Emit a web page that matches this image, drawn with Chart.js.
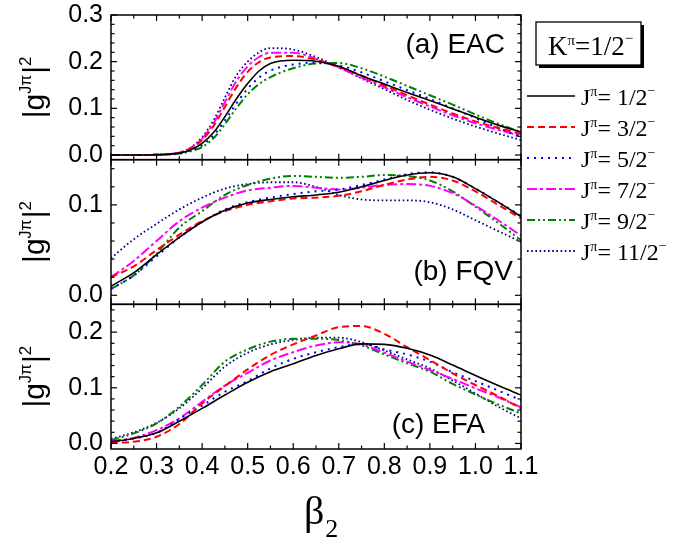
<!DOCTYPE html>
<html>
<head>
<meta charset="utf-8">
<script src="https://cdn.jsdelivr.net/npm/chart.js@4.4.0/dist/chart.umd.min.js"></script>
<style>
  html, body { margin: 0; padding: 0; background: #fff; }
  #wrap { position: relative; width: 681px; height: 544px; }
</style>
</head>
<body>
<div id="wrap"><canvas id="c" width="681" height="544"></canvas></div>
<script>
// deformation grid (beta_2)
const betaA  = [0.2,0.25,0.3,0.35,0.375,0.4,0.425,0.45,0.475,0.5,0.525,0.55,0.6,0.65,0.7,0.75,0.8,0.85,0.9,0.95,1.0,1.05,1.1];
const betaBC = [0.2,0.25,0.3,0.35,0.4,0.45,0.5,0.55,0.6,0.65,0.7,0.75,0.8,0.85,0.9,0.95,1.0,1.05,1.1];

// (a) EAC
const eacJ1  = [0,0,0.0005,0.004,0.011,0.025,0.048,0.082,0.12,0.153,0.18,0.196,0.203,0.201,0.19,0.17,0.152,0.134,0.117,0.099,0.081,0.064,0.049];
const eacJ3  = [0,0,0.0005,0.005,0.014,0.032,0.062,0.103,0.145,0.178,0.199,0.209,0.212,0.204,0.189,0.17,0.149,0.128,0.108,0.089,0.072,0.058,0.045];
const eacJ5  = [0,0,0.0005,0.004,0.01,0.021,0.042,0.074,0.11,0.142,0.166,0.181,0.194,0.198,0.192,0.177,0.158,0.139,0.12,0.1,0.079,0.058,0.038];
const eacJ7  = [0,0,0.0005,0.005,0.015,0.035,0.068,0.113,0.158,0.19,0.21,0.219,0.219,0.206,0.187,0.166,0.145,0.124,0.104,0.085,0.068,0.054,0.041];
const eacJ9  = [0,0,0.0005,0.003,0.008,0.017,0.036,0.066,0.1,0.13,0.152,0.167,0.186,0.196,0.197,0.186,0.168,0.148,0.128,0.108,0.087,0.067,0.049];
const eacJ11 = [0,0,0.0005,0.005,0.016,0.038,0.074,0.123,0.17,0.2,0.22,0.229,0.226,0.21,0.188,0.164,0.141,0.118,0.097,0.078,0.061,0.046,0.032];

// (b) FQV
const fqvJ1  = [0.010,0.025,0.045,0.064,0.081,0.094,0.102,0.106,0.109,0.111,0.114,0.12,0.127,0.133,0.1355,0.131,0.118,0.103,0.087];
const fqvJ3  = [0.020,0.032,0.05,0.067,0.082,0.093,0.1,0.104,0.107,0.108,0.11,0.115,0.122,0.128,0.131,0.127,0.115,0.1,0.085];
const fqvJ5  = [0.007,0.022,0.043,0.064,0.081,0.095,0.103,0.108,0.112,0.115,0.117,0.122,0.128,0.134,0.136,0.131,0.118,0.103,0.088];
const fqvJ7  = [0.020,0.038,0.06,0.082,0.097,0.108,0.116,0.119,0.121,0.119,0.117,0.119,0.122,0.123,0.121,0.113,0.099,0.083,0.066];
const fqvJ9  = [0.007,0.022,0.046,0.075,0.093,0.111,0.122,0.129,0.132,0.131,0.13,0.131,0.133,0.132,0.127,0.115,0.098,0.08,0.061];
const fqvJ11 = [0.041,0.062,0.079,0.095,0.108,0.118,0.123,0.125,0.125,0.12,0.111,0.106,0.105,0.105,0.103,0.095,0.083,0.071,0.059];

// (c) EFA
const efaJ1  = [0.003,0.009,0.019,0.04,0.063,0.087,0.11,0.129,0.143,0.158,0.17,0.179,0.178,0.171,0.159,0.141,0.122,0.104,0.087];
const efaJ3  = [0.001,0.003,0.012,0.035,0.072,0.103,0.133,0.159,0.178,0.194,0.209,0.211,0.197,0.173,0.15,0.126,0.105,0.085,0.063];
const efaJ5  = [0.003,0.009,0.019,0.044,0.068,0.093,0.112,0.135,0.152,0.164,0.173,0.179,0.169,0.16,0.147,0.128,0.112,0.095,0.078];
const efaJ7  = [0.004,0.01,0.024,0.045,0.075,0.104,0.127,0.149,0.164,0.176,0.182,0.178,0.163,0.147,0.132,0.116,0.099,0.083,0.065];
const efaJ9  = [0.006,0.018,0.036,0.066,0.105,0.147,0.169,0.183,0.188,0.188,0.186,0.176,0.16,0.144,0.129,0.107,0.088,0.07,0.054];
const efaJ11 = [0.008,0.02,0.037,0.063,0.099,0.138,0.163,0.178,0.186,0.19,0.19,0.182,0.167,0.151,0.135,0.113,0.09,0.066,0.045];

// spins and tick labels
const spinLabels = ['1/2','3/2','5/2','7/2','9/2','11/2'];
const xTickValues = [0.2,0.3,0.4,0.5,0.6,0.7,0.8,0.9,1.0,1.1];
const yTicksA = [0.0,0.1,0.2,0.3];
const yTicksB = [0.0,0.1];
const yTicksC = [0.0,0.1,0.2];

// line styles per spin
const styles = [
  { color: '#000000', dash: [],                 width: 1.6 },
  { color: '#ff0000', dash: [7,4],              width: 2 },
  { color: '#0000ff', dash: [2,5],              width: 2 },
  { color: '#ff00ff', dash: [10,3,3,3],         width: 2 },
  { color: '#008000', dash: [8,3,2,3,2,3],      width: 2 },
  { color: '#000080', dash: [1.6,2.6],          width: 1.8 }
];

const panels = [
  { axis: 'yA', beta: betaA,  series: [eacJ1,eacJ3,eacJ5,eacJ7,eacJ9,eacJ11], min: -0.01, max: 0.3,  ticks: yTicksA, minorTop: 0.3,  label: '(a) EAC', lx: 505, ly: 53 },
  { axis: 'yB', beta: betaBC, series: [fqvJ1,fqvJ3,fqvJ5,fqvJ7,fqvJ9,fqvJ11], min: -0.01, max: 0.15, ticks: yTicksB, minorTop: 0.14, label: '(b) FQV', lx: 513, ly: 280 },
  { axis: 'yC', beta: betaBC, series: [efaJ1,efaJ3,efaJ5,efaJ7,efaJ9,efaJ11], min: -0.01, max: 0.25, ticks: yTicksC, minorTop: 0.24, label: '(c) EFA', lx: 485, ly: 433 }
];

const datasets = [];
panels.forEach(p => {
  p.series.forEach((vals, i) => {
    datasets.push({
      label: 'J=' + spinLabels[i],
      data: p.beta.map((b, k) => ({ x: b, y: vals[k] })),
      yAxisID: p.axis,
      xAxisID: 'x',
      borderColor: styles[i].color,
      borderDash: styles[i].dash,
      borderWidth: styles[i].width,
      pointRadius: 0,
      fill: false,
      cubicInterpolationMode: 'monotone',
      order: i
    });
  });
});

const SANS = '"Liberation Sans", Arial, sans-serif';
const SERIF = '"Liberation Serif", "Times New Roman", serif';

// draws a run of text pieces with individual sizes and vertical shifts
function richText(ctx, x, y, parts) {
  let cx = x;
  parts.forEach(p => {
    ctx.font = p.size + 'px ' + p.family;
    ctx.fillText(p.t, cx, y - (p.up || 0));
    cx += ctx.measureText(p.t).width + (p.gap || 0);
  });
  return cx;
}
function richWidth(ctx, parts) {
  let w = 0;
  parts.forEach(p => { ctx.font = p.size + 'px ' + p.family; w += ctx.measureText(p.t).width + (p.gap || 0); });
  return w;
}

const decorations = {
  id: 'decorations',
  afterDatasetsDraw(chart) {
    const { ctx, chartArea, scales } = chart;
    const xs = scales.x;
    const L = chartArea.left, R = chartArea.right;
    ctx.save();
    ctx.strokeStyle = '#000';
    ctx.fillStyle = '#000';
    const seg = (x1, y1, x2, y2) => { ctx.beginPath(); ctx.moveTo(x1, y1); ctx.lineTo(x2, y2); ctx.stroke(); };

    panels.forEach(p => {
      const ys = scales[p.axis];
      const T = ys.top, B = ys.bottom;
      // inward tick marks on all four sides
      ctx.lineWidth = 1.2;
      for (let i = 0; i <= 18; i++) {
        const v = 0.2 + i * 0.05;
        const px = xs.getPixelForValue(v);
        const len = i % 2 === 0 ? 6 : 3.5;
        seg(px, B, px, B - len);
        seg(px, T, px, T + len);
      }
      const nMinor = Math.round(p.minorTop / 0.02);
      for (let k = 0; k <= nMinor; k++) {
        const v = k * 0.02;
        const py = ys.getPixelForValue(v);
        const major = (k % 5 === 0);
        const len = major ? 6 : 3.5;
        seg(L, py, L + len, py);
        seg(R, py, R - len, py);
      }
      // frame
      ctx.lineWidth = 1.5;
      ctx.strokeRect(L, T, R - L, B - T);

      // panel caption
      ctx.font = '28px ' + SANS;
      ctx.textAlign = 'right';
      ctx.textBaseline = 'alphabetic';
      ctx.fillText(p.label, p.lx, p.ly);
      ctx.textAlign = 'left';

      // rotated axis title |g^{J pi}|^2
      const parts = [
        { t: '|g', size: 30, family: SANS },
        { t: 'J', size: 16, family: SANS, up: 13 },
        { t: 'π', size: 16, family: SANS, up: 13, gap: 1 },
        { t: '|', size: 30, family: SANS },
        { t: '2', size: 17, family: SANS, up: 13 }
      ];
      const w = richWidth(ctx, parts);
      const cy = (T + B) / 2;
      ctx.save();
      ctx.translate(44, cy);
      ctx.rotate(-Math.PI / 2);
      richText(ctx, -w / 2, 0, parts);
      ctx.restore();
    });

    // x axis title beta_2
    ctx.textBaseline = 'alphabetic';
    ctx.font = '40px ' + SERIF;
    ctx.fillText('β', 304, 524);
    const bw = ctx.measureText('β').width;
    ctx.font = '26px ' + SERIF;
    ctx.fillText('2', 304 + bw + 1, 537);

    // K box with shadow
    const bx = 536, by = 22, bwid = 105, bh = 43;
    ctx.fillStyle = '#000';
    ctx.fillRect(bx + 3, by + 3, bwid, bh);
    ctx.fillStyle = '#fff';
    ctx.fillRect(bx, by, bwid, bh);
    ctx.lineWidth = 1.3;
    ctx.strokeRect(bx, by, bwid, bh);
    ctx.fillStyle = '#000';
    richText(ctx, 548, 55, [
      { t: 'K', size: 27, family: SERIF },
      { t: 'π', size: 15, family: SERIF, up: 10 },
      { t: '=1/2', size: 27, family: SERIF },
      { t: '−', size: 15, family: SERIF, up: 12 }
    ]);

    // series key
    spinLabels.forEach((s, i) => {
      const ly = 96 + i * 31;
      const st = styles[i];
      ctx.save();
      ctx.strokeStyle = st.color;
      ctx.lineWidth = st.width;
      ctx.setLineDash(st.dash);
      seg(527, ly, 575, ly);
      ctx.restore();
      ctx.fillStyle = '#000';
      richText(ctx, 581, ly + 9, [
        { t: 'J', size: 24, family: SERIF },
        { t: 'π', size: 14, family: SERIF, up: 9 },
        { t: '= ' + s, size: 24, family: SERIF },
        { t: '−', size: 14, family: SERIF, up: 10 }
      ]);
    });
    ctx.restore();
  }
};

Chart.defaults.color = '#000';
Chart.defaults.font.family = SANS;

function yScale(p, weight) {
  return {
    type: 'linear',
    position: 'left',
    stack: 'panels',
    stackWeight: 1,
    weight: weight,
    min: p.min,
    max: p.max,
    grid: { display: false, drawTicks: false },
    border: { display: false },
    ticks: { font: { size: 25 }, padding: 8, autoSkip: false, callback: v => v.toFixed(1) },
    afterBuildTicks: s => { s.ticks = p.ticks.map(v => ({ value: v })); },
    afterFit: s => { s.width = 60; s.paddingTop = 0; s.paddingBottom = 0; }
  };
}

new Chart(document.getElementById('c'), {
  type: 'line',
  data: { datasets },
  options: {
    responsive: false,
    animation: false,
    devicePixelRatio: 1,
    layout: { padding: { left: 51, right: 160, top: 15, bottom: 0 } },
    plugins: { legend: { display: false }, tooltip: { enabled: false } },
    scales: {
      x: {
        type: 'linear',
        position: 'bottom',
        min: 0.2,
        max: 1.1,
        grid: { display: false, drawTicks: false },
        border: { display: false },
        ticks: { font: { size: 25 }, padding: 3, autoSkip: false, maxRotation: 0, callback: v => v.toFixed(1) },
        afterBuildTicks: s => { s.ticks = xTickValues.map(v => ({ value: v })); },
        afterFit: s => { s.height = 95; s.paddingLeft = 0; s.paddingRight = 0; }
      },
      yA: yScale(panels[0], 3),
      yB: yScale(panels[1], 2),
      yC: yScale(panels[2], 1)
    }
  },
  plugins: [decorations]
});
</script>
</body>
</html>
